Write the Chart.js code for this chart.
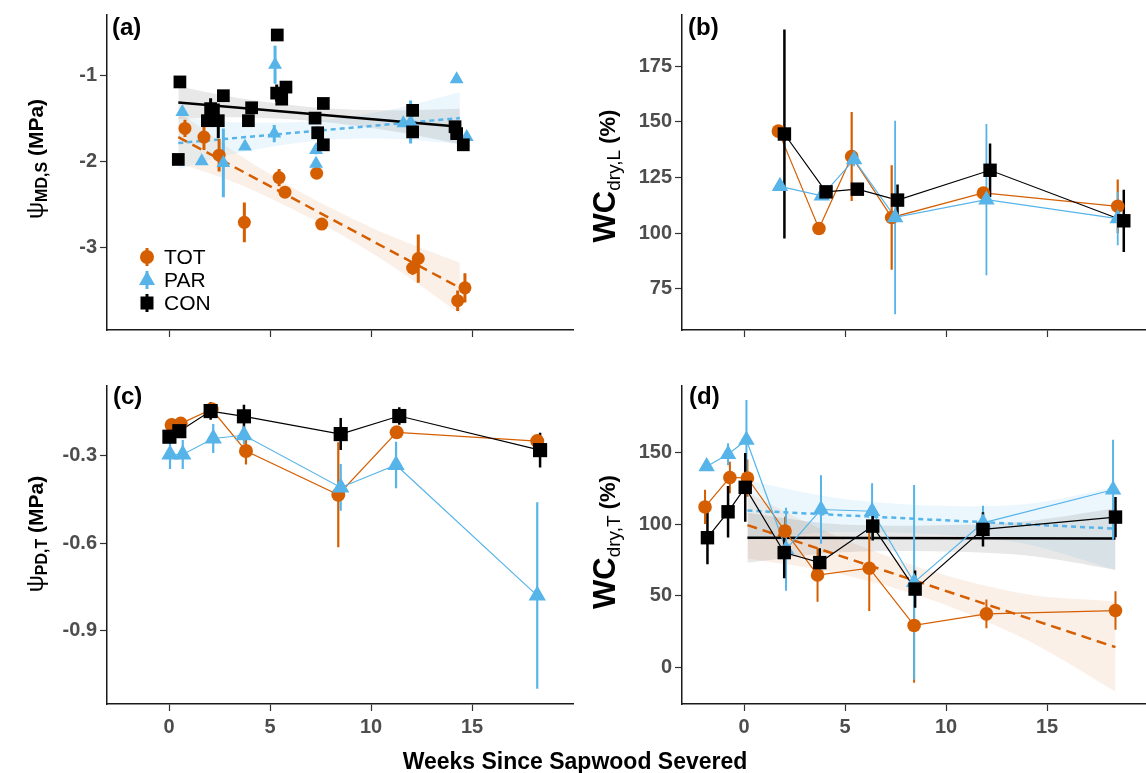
<!DOCTYPE html>
<html>
<head>
<meta charset="utf-8">
<script src="https://cdn.jsdelivr.net/npm/chart.js@4.4.0/dist/chart.umd.min.js"></script>
<style>
  body { margin: 0; background: #fff; width: 1146px; height: 773px; position: relative; overflow: hidden; font-family: "Liberation Sans", Arial, sans-serif; }
  canvas { position: absolute; }
  .lab { position: absolute; font-weight: bold; font-size: 24px; line-height: 24px; color: #000; }
  .yt { position: absolute; white-space: nowrap; transform: translate(-50%, -50%) rotate(-90deg); font-weight: bold; font-size: 21px; color: #000; line-height: 28px; }
  .yt .psi { font-weight: normal; font-size: 24px; }
  .yt .wc { font-size: 31px; }
  .yt .pc { font-size: 22px; }
  .yt sub { font-size: 16px; vertical-align: -4px; line-height: 0; }
  .yt sub.n { font-weight: normal; font-size: 19px; vertical-align: -5px; }
  #xt { position: absolute; left: 575px; top: 761px; transform: translate(-50%, -50%); font-weight: bold; font-size: 23px; white-space: nowrap; }
</style>
</head>
<body>
<canvas id="pa" width="580" height="345" style="left:0;top:0"></canvas>
<canvas id="pb" width="571" height="345" style="left:575px;top:0"></canvas>
<canvas id="pc" width="580" height="402" style="left:0;top:371px"></canvas>
<canvas id="pd" width="571" height="402" style="left:575px;top:371px"></canvas>

<div class="lab" style="left:112px;top:15px">(a)</div>
<div class="lab" style="left:688px;top:15px">(b)</div>
<div class="lab" style="left:113px;top:384px">(c)</div>
<div class="lab" style="left:689px;top:384px">(d)</div>

<div class="yt" style="left:35px;top:159px"><span class="psi">ψ</span><sub>MD,S</sub> (MPa)</div>
<div class="yt" style="left:606px;top:176px"><span class="wc">WC</span><sub class="n">dry,L</sub><span class="pc"> (%)</span></div>
<div class="yt" style="left:35px;top:534px"><span class="psi">ψ</span><sub>PD,T</sub> (MPa)</div>
<div class="yt" style="left:606px;top:542px"><span class="wc">WC</span><sub class="n">dry,T</sub><span class="pc"> (%)</span></div>
<div id="xt">Weeks Since Sapwood Severed</div>

<script>
// groups
const groups = ["TOT", "PAR", "CON"];
const totColor = "#D55E00";
const parColor = "#56B4E9";
const conColor = "#000000";

// shared x axis
const xTicks = [0, 5, 10, 15];
const xLabels = ["0", "5", "10", "15"];

// (a) midday stem water potential
const aYTicks = [-3, -2, -1];
const aYLabels = ["-3", "-2", "-1"];
const aTotWeek = [0.79, 1.73, 2.48, 3.73, 5.45, 5.74, 7.31, 7.56, 12.06, 12.34, 14.29, 14.65];
const aTotVal = [-1.62, -1.72, -1.93, -2.71, -2.19, -2.36, -2.14, -2.73, -3.24, -3.13, -3.62, -3.47];
const aTotErr = [0.1, 0.15, 0.19, 0.23, 0.1, 0.05, 0.06, 0.04, 0.08, 0.28, 0.12, 0.17];
const aParWeek = [0.66, 1.62, 2.69, 3.76, 5.25, 5.21, 7.28, 7.28, 11.6, 11.96, 14.24, 14.74];
const aParVal = [-1.43, -2.0, -2.02, -1.83, -0.88, -1.68, -1.87, -2.03, -1.56, -1.545, -1.05, -1.72];
const aParErr = [0.04, 0.04, 0.4, 0.03, 0.22, 0.1, 0.05, 0.06, 0.04, 0.25, 0.03, 0.04];
const aConWeek = [0.54, 0.46, 2.06, 1.9, 2.44, 2.69, 4.09, 3.93, 5.36, 5.33, 5.58, 5.79, 7.64, 7.23, 7.36, 7.64, 12.06, 12.06, 14.16, 14.24, 14.57];
const aConVal = [-1.08, -1.98, -1.39, -1.53, -1.53, -1.24, -1.38, -1.53, -0.535, -1.21, -1.28, -1.14, -1.33, -1.5, -1.67, -1.81, -1.41, -1.66, -1.6, -1.68, -1.81];
const aConErr = [0.05, 0.03, 0.12, 0.03, 0.2, 0.03, 0.03, 0.03, 0.03, 0.1, 0.06, 0.03, 0.03, 0.05, 0.07, 0.03, 0.07, 0.05, 0.04, 0.04, 0.03];
// (a) fitted lines and confidence bands
const aFitWeek = [0.46, 14.4];
const aTotFit = [-1.72, -3.47];
const aParFit = [-1.79, -1.5];
const aConFit = [-1.32, -1.6];
const aBandWeek = [0.46, 3.5, 7.4, 11, 14.4];
const aTotUp = [-1.42, -1.93, -2.47, -2.87, -3.18];
const aTotLo = [-2.02, -2.27, -2.71, -3.21, -3.77];
const aParUp = [-1.49, -1.55, -1.53, -1.4, -1.2];
const aParLo = [-2.09, -1.9, -1.76, -1.74, -1.8];
const aConUp = [-1.13, -1.27, -1.38, -1.41, -1.39];
const aConLo = [-1.51, -1.49, -1.54, -1.65, -1.8];

// (b) leaf water content
const bYTicks = [75, 100, 125, 150, 175];
const bYLabels = ["75", "100", "125", "150", "175"];
const bTotWeek = [1.7, 3.71, 5.33, 7.31, 11.85, 18.5];
const bTotVal = [145.8, 102, 134.4, 107, 118, 112];
const bTotErr = [1, 1, 20, 23.5, 2, 12];
const bParWeek = [1.78, 3.85, 5.45, 7.48, 12.0, 18.5];
const bParVal = [121, 116.7, 133, 107, 115, 106.5];
const bParErr = [1, 1, 3, 43.5, 34, 12];
const bConWeek = [2.0, 4.06, 5.61, 7.6, 12.18, 18.8];
const bConVal = [144.5, 118.5, 119.7, 114.8, 128.2, 105.5];
const bConErr = [47, 2, 2, 7, 12, 14];

// (c) predawn twig water potential
const cYTicks = [-0.9, -0.6, -0.3];
const cYLabels = ["-0.9", "-0.6", "-0.3"];
const cTotWeek = [0.13, 0.58, 2.11, 3.81, 8.38, 11.27, 18.23];
const cTotVal = [-0.195, -0.19, -0.141, -0.284, -0.434, -0.22, -0.25];
const cTotErr = [0.01, 0.01, 0.02, 0.046, 0.18, 0.02, 0.01];
const cParWeek = [0.05, 0.68, 2.19, 3.71, 8.5, 11.24, 18.23];
const cParVal = [-0.296, -0.296, -0.241, -0.23, -0.409, -0.332, -0.78];
const cParErr = [0.05, 0.05, 0.05, 0.03, 0.08, 0.08, 0.32];
const cConWeek = [0.02, 0.51, 2.06, 3.71, 8.5, 11.4, 18.37];
const cConVal = [-0.235, -0.216, -0.147, -0.165, -0.226, -0.164, -0.281];
const cConErr = [0.02, 0.02, 0.03, 0.04, 0.055, 0.03, 0.06];

// (d) twig water content
const dYTicks = [0, 50, 100, 150];
const dYLabels = ["0", "50", "100", "150"];
const dTotWeek = [-1.93, -0.7, 0.17, 2.03, 3.64, 6.2, 8.42, 12.0, 18.39];
const dTotVal = [112, 132.6, 132.2, 95.1, 64.4, 69.2, 29.2, 37.3, 39.6];
const dTotErr = [12, 11, 13, 10, 18.6, 30, 40, 10, 13.5];
const dParWeek = [-1.85, -0.79, 0.12, 2.08, 3.81, 6.34, 8.42, 11.83, 18.27];
const dParVal = [140.3, 148.8, 158.8, 82.4, 110.2, 109, 59.3, 100.9, 124];
const dParErr = [1, 7.7, 28, 29, 24, 19.5, 68, 12, 35];
const dConWeek = [-1.81, -0.79, 0.06, 1.99, 3.75, 6.37, 8.47, 11.83, 18.39];
const dConVal = [90.5, 108.6, 125.7, 80.1, 73.1, 98.6, 54.6, 96.3, 104.9];
const dConErr = [18.5, 18, 24, 18, 10, 10, 13, 12, 14];
const dFitWeek = [0.17, 18.39];
const dTotFit = [99.3, 14];
const dParFit = [109.5, 96.8];
const dConFit = [90.5, 90];
const dBandWeek = [0.17, 4.5, 9.3, 14, 18.39];
const dTotUp = [122, 92, 67, 51, 46];
const dTotLo = [76, 66, 47, 19, -17];
const dParUp = [130.5, 118.5, 113, 114, 126];
const dParLo = [88.5, 94.5, 93, 86, 68];
const dConUp = [108, 100, 99, 102, 111];
const dConLo = [73, 80, 81, 78, 68];

const xMin = -3.07;
const tickFont = { family: "Liberation Sans", size: 20, weight: "bold" };

function pts(xs, ys) {
  return xs.map((x, i) => ({ x: x, y: ys[i] }));
}

function errPts(xs, ys, es) {
  const out = [];
  xs.forEach((x, i) => {
    out.push({ x: x, y: ys[i] - es[i] }, { x: x, y: ys[i] + es[i] }, { x: x, y: null });
  });
  return out;
}

function markers(xs, ys, style, color, r) {
  return { data: pts(xs, ys), showLine: false, pointStyle: style, pointRadius: r,
    pointBackgroundColor: color, pointBorderWidth: 0, borderColor: color };
}

function errBars(xs, ys, es, color, w) {
  return { data: errPts(xs, ys, es), borderColor: color, borderWidth: w, pointRadius: 0, spanGaps: false };
}

function path(xs, ys, color, w, dash) {
  return { data: pts(xs, ys), borderColor: color, borderWidth: w, borderDash: dash || [], pointRadius: 0 };
}

function band(xs, up, lo, fillColor) {
  return [
    { data: pts(xs, up), fill: "+1", backgroundColor: fillColor, borderColor: "transparent", borderWidth: 0, pointRadius: 0, tension: 0.3 },
    { data: pts(xs, lo), fill: false, borderColor: "transparent", borderWidth: 0, pointRadius: 0, tension: 0.3 },
  ];
}

// legend drawn inside panel (a)
const groupLegend = {
  id: "groupLegend",
  afterDatasetsDraw(chart) {
    const ctx = chart.ctx;
    const cx = 147;
    const colors = [totColor, parColor, conColor];
    ctx.save();
    groups.forEach((g, i) => {
      const cy = 257 + i * 23;
      ctx.strokeStyle = colors[i];
      ctx.fillStyle = colors[i];
      ctx.lineWidth = 3;
      ctx.beginPath();
      ctx.moveTo(cx, cy - 9);
      ctx.lineTo(cx, cy + 9);
      ctx.stroke();
      ctx.beginPath();
      if (i == 0) {
        ctx.arc(cx, cy, 7, 0, Math.PI * 2);
      } else if (i == 1) {
        ctx.moveTo(cx, cy - 9);
        ctx.lineTo(cx + 8, cy + 5);
        ctx.lineTo(cx - 8, cy + 5);
        ctx.closePath();
      } else {
        ctx.rect(cx - 6.5, cy - 6.5, 13, 13);
      }
      ctx.fill();
      ctx.fillStyle = "#000";
      ctx.font = "21px 'Liberation Sans'";
      ctx.textBaseline = "middle";
      ctx.fillText(g, 164, cy + 1);
    });
    ctx.restore();
  },
};

function makePanel(id, o) {
  return new Chart(document.getElementById(id), {
    type: "line",
    data: { datasets: o.datasets },
    options: {
      responsive: false,
      animation: false,
      events: [],
      layout: { autoPadding: false, padding: { top: 13, right: o.padRight, left: 0, bottom: 0 } },
      plugins: { legend: { display: false }, tooltip: { enabled: false } },
      scales: {
        x: {
          type: "linear",
          min: xMin,
          max: o.xMax,
          afterBuildTicks: (s) => { s.ticks = xTicks.map((v) => ({ value: v })); },
          afterFit: (s) => { s.height = o.xHeight; },
          border: { display: true, color: "#1a1a1a", width: 1.5 },
          grid: { display: true, drawOnChartArea: false, drawTicks: true, tickLength: 7, tickColor: "#333", tickWidth: 1.2 },
          ticks: { autoSkip: false, maxRotation: 0, padding: 4, font: tickFont, color: "#4d4d4d",
            callback: (v, i) => (o.showX ? xLabels[i] : "") },
        },
        y: {
          type: "linear",
          min: o.yMin,
          max: o.yMax,
          afterBuildTicks: (s) => { s.ticks = o.yTicks.map((v) => ({ value: v })); },
          afterFit: (s) => { s.width = 107; },
          border: { display: true, color: "#1a1a1a", width: 1.5 },
          grid: { display: true, drawOnChartArea: false, drawTicks: true, tickLength: 7, tickColor: "#333", tickWidth: 1.2 },
          ticks: { autoSkip: false, padding: 3, font: tickFont, color: "#4d4d4d",
            callback: (v, i) => o.yLabels[i] },
        },
      },
    },
    plugins: o.plugins || [],
  });
}

const totBand = "rgba(213, 94, 0, 0.09)";
const parBand = "rgba(86, 180, 233, 0.11)";
const conBand = "rgba(0, 0, 0, 0.09)";

// panel (a): points + regression lines
makePanel("pa", {
  xMax: 20.0, padRight: 7, xHeight: 12, showX: false,
  yMin: -3.96, yMax: -0.303, yTicks: aYTicks, yLabels: aYLabels,
  plugins: [groupLegend],
  datasets: [
    markers(aConWeek, aConVal, "rect", conColor, 9),
    markers(aParWeek, aParVal, "triangle", parColor, 8),
    markers(aTotWeek, aTotVal, "circle", totColor, 6.5),
    errBars(aConWeek, aConVal, aConErr, conColor, 3),
    errBars(aParWeek, aParVal, aParErr, parColor, 3),
    errBars(aTotWeek, aTotVal, aTotErr, totColor, 3),
    path(aFitWeek, aConFit, conColor, 2.5),
    path(aFitWeek, aParFit, parColor, 2.5, [5, 4]),
    path(aFitWeek, aTotFit, totColor, 2.5, [10, 6]),
    ...band(aBandWeek, aConUp, aConLo, conBand),
    ...band(aBandWeek, aParUp, aParLo, parBand),
    ...band(aBandWeek, aTotUp, aTotLo, totBand),
  ],
});

// panel (b): connected means
makePanel("pb", {
  xMax: 19.9, padRight: 0, xHeight: 12, showX: false,
  yMin: 56.4, yMax: 198, yTicks: bYTicks, yLabels: bYLabels,
  datasets: [
    markers(bConWeek, bConVal, "rect", conColor, 9.5),
    markers(bParWeek, bParVal, "triangle", parColor, 9.5),
    markers(bTotWeek, bTotVal, "circle", totColor, 6.8),
    errBars(bConWeek, bConVal, bConErr, conColor, 2.5),
    errBars(bParWeek, bParVal, bParErr, parColor, 1.8),
    errBars(bTotWeek, bTotVal, bTotErr, totColor, 2.2),
    path(bConWeek, bConVal, conColor, 1.2),
    path(bParWeek, bParVal, parColor, 1.2),
    path(bTotWeek, bTotVal, totColor, 1.2),
  ],
});

// panel (c)
makePanel("pc", {
  xMax: 20.0, padRight: 7, xHeight: 69, showX: true,
  yMin: -1.152, yMax: -0.061, yTicks: cYTicks, yLabels: cYLabels,
  datasets: [
    markers(cConWeek, cConVal, "rect", conColor, 10),
    markers(cParWeek, cParVal, "triangle", parColor, 10),
    markers(cTotWeek, cTotVal, "circle", totColor, 7),
    errBars(cConWeek, cConVal, cConErr, conColor, 2.5),
    errBars(cParWeek, cParVal, cParErr, parColor, 2.2),
    errBars(cTotWeek, cTotVal, cTotErr, totColor, 2.2),
    path(cConWeek, cConVal, conColor, 1.2),
    path(cParWeek, cParVal, parColor, 1.2),
    path(cTotWeek, cTotVal, totColor, 1.2),
  ],
});

// panel (d)
makePanel("pd", {
  xMax: 19.9, padRight: 0, xHeight: 69, showX: true,
  yMin: -25.7, yMax: 196.5, yTicks: dYTicks, yLabels: dYLabels,
  datasets: [
    markers(dConWeek, dConVal, "rect", conColor, 9.5),
    markers(dParWeek, dParVal, "triangle", parColor, 9.5),
    markers(dTotWeek, dTotVal, "circle", totColor, 6.8),
    errBars(dConWeek, dConVal, dConErr, conColor, 2.5),
    errBars(dParWeek, dParVal, dParErr, parColor, 2),
    errBars(dTotWeek, dTotVal, dTotErr, totColor, 2),
    path(dConWeek, dConVal, conColor, 1.2),
    path(dParWeek, dParVal, parColor, 1.2),
    path(dTotWeek, dTotVal, totColor, 1.2),
    path(dFitWeek, dConFit, conColor, 2.5),
    path(dFitWeek, dParFit, parColor, 2.5, [5, 4]),
    path(dFitWeek, dTotFit, totColor, 2.5, [10, 6]),
    ...band(dBandWeek, dConUp, dConLo, conBand),
    ...band(dBandWeek, dParUp, dParLo, parBand),
    ...band(dBandWeek, dTotUp, dTotLo, totBand),
  ],
});
</script>
</body>
</html>
